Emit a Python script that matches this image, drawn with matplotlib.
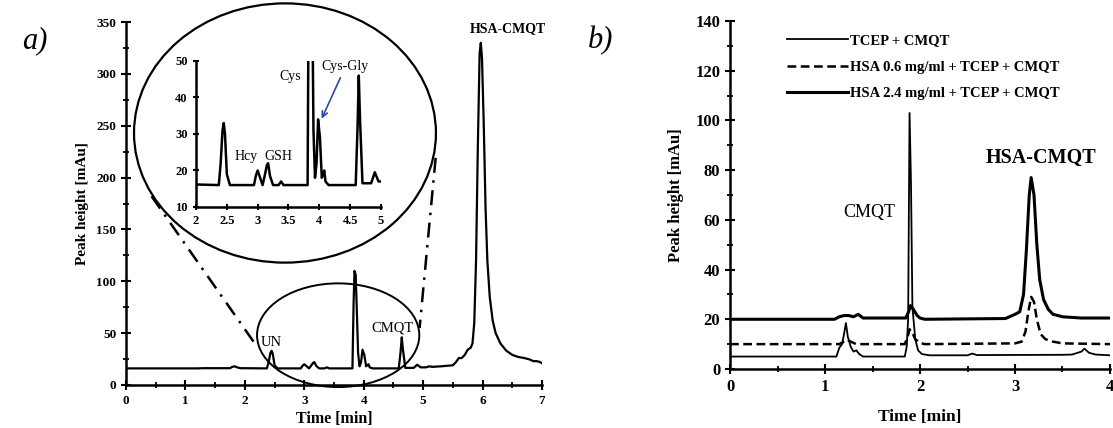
import matplotlib.pyplot as plt
from matplotlib.patches import Ellipse
from matplotlib.ticker import MultipleLocator

plt.rcParams['font.family'] = ['Liberation Serif', 'DejaVu Serif']

# ---- panel a: chromatogram (time [min], peak height [mAu])
time_a = [0, 1.2, 1.3, 1.75, 1.79, 1.83, 1.87, 1.92, 2.37, 2.4, 2.43, 2.45, 2.47,
          2.5, 2.55, 2.94, 2.97, 3.0, 3.03, 3.08, 3.12, 3.15, 3.17, 3.2, 3.25,
          3.34, 3.38, 3.42, 3.81, 3.83, 3.845, 3.865, 3.885, 3.905, 3.93, 3.955,
          3.98, 4.01, 4.04, 4.06, 4.08, 4.1, 4.15, 4.59, 4.62, 4.64, 4.66, 4.7,
          4.84, 4.9, 4.96, 5.05, 5.1, 5.15, 5.3, 5.5, 5.55, 5.6, 5.65, 5.7, 5.75,
          5.8, 5.83, 5.86, 5.89, 5.92, 5.95, 5.97, 5.99, 6.02, 6.05, 6.08, 6.12,
          6.17, 6.22, 6.3, 6.4, 6.5, 6.6, 6.7, 6.8, 6.85, 6.9, 6.95, 7.0]
height_a = [16, 16, 16.2, 16.2, 17.5, 18, 17, 16.2, 16, 22, 31, 33, 30,
            19, 16, 16, 18.5, 20, 18.5, 16, 19, 21.5, 22, 18.5, 16,
            16, 17, 16, 16, 80, 110, 106, 70, 31, 18, 22,
            34, 29, 18, 19, 20, 17, 16, 16, 32, 46, 34, 16.5,
            16.5, 19.5, 17, 17, 18, 17.5, 18, 19, 22, 26, 26, 29, 34,
            36, 40, 60, 120, 230, 320, 330, 315, 250, 170, 120, 85,
            62, 50, 40, 33, 29, 27, 26, 24.5, 23, 23, 22.5, 21]

# zoom-in guide lines (start, end) in panel-a data units
guide_left_x = [0.43, 2.18]
guide_left_y = [182, 39]
guide_right_x = [5.21, 4.94]
guide_right_y = [219, 55]

xticks_a = [0, 1, 2, 3, 4, 5, 6, 7]
yticks_a = [0, 50, 100, 150, 200, 250, 300, 350]
inset_xticks = [2, 2.5, 3, 3.5, 4, 4.5, 5]
inset_xlabels = ['2', '2.5', '3', '3.5', '4', '4.5', '5']
inset_yticks = [10, 20, 30, 40, 50]

# ---- panel b: three traces
time_tcep = [0, 1.12, 1.15, 1.18, 1.2, 1.22, 1.24, 1.27, 1.3, 1.33, 1.36, 1.4,
             1.84, 1.86, 1.875, 1.89, 1.905, 1.92, 1.95, 1.98, 2.02, 2.1, 2.5,
             2.55, 2.6, 3.5, 3.6, 3.7, 3.73, 3.78, 3.85, 4.0]
height_tcep = [5, 5, 8.5, 10, 14, 18.5, 13, 9, 7, 7.5, 6, 5,
               5, 9, 20, 103, 75, 25, 12, 7.5, 6, 5.5, 5.5,
               6.2, 5.6, 5.7, 5.8, 7, 8.2, 6.5, 5.8, 5.5]

time_hsa06 = [0, 1.15, 1.2, 1.23, 1.27, 1.33, 1.84, 1.87, 1.89, 1.92, 1.95, 2.0,
              2.05, 3.0, 3.07, 3.11, 3.14, 3.17, 3.2, 3.23, 3.27, 3.32, 3.4, 3.5,
              4.0]
height_hsa06 = [10, 10, 11, 11.8, 11, 10, 10, 13, 16, 14.5, 12, 10.5,
                10, 10.3, 11, 15, 23, 29, 27, 20, 14, 12, 11, 10.3,
                10]

time_hsa24 = [0, 1.1, 1.15, 1.2, 1.25, 1.3, 1.35, 1.4, 1.85, 1.88, 1.9, 1.93,
              1.97, 2.0, 2.05, 2.9, 3.0, 3.05, 3.09, 3.12, 3.15, 3.17, 3.2,
              3.23, 3.26, 3.3, 3.35, 3.4, 3.5, 3.7, 4.0]
height_hsa24 = [20, 20, 21, 21.5, 21.5, 21, 22, 20.5, 20.5, 23, 25.5, 24,
                21.5, 20.5, 20, 20.3, 22, 23, 30, 48, 70, 77, 70,
                50, 36, 28, 24, 22, 21, 20.5, 20.5]

labels_b = ['TCEP + CMQT', 'HSA 0.6 mg/ml + TCEP + CMQT',
            'HSA 2.4 mg/ml + TCEP + CMQT']
xticks_b = [0, 1, 2, 3, 4]
yticks_b = [0, 20, 40, 60, 80, 100, 120, 140]


def style_axis(ax, fs):
    for side in ['top', 'right']:
        ax.spines[side].set_visible(False)
    for side in ['left', 'bottom']:
        ax.spines[side].set_linewidth(1.8)
    ax.tick_params(which='major', direction='inout', length=7, width=1.5,
                   labelsize=fs)
    ax.tick_params(which='minor', direction='inout', length=5, width=1.3)
    for lab in ax.get_xticklabels() + ax.get_yticklabels():
        lab.set_fontweight('bold')


fig = plt.figure(figsize=(11.13, 4.28), dpi=100)

# ---------------- panel a
ax1 = fig.add_axes([0.1132, 0.1005, 0.3738, 0.848])
ax1.plot(time_a, height_a, color='black', lw=1.6)
ax1.set_xlim(0, 7)
ax1.set_ylim(0, 350)
ax1.set_xticks(xticks_a)
ax1.set_yticks(yticks_a)
ax1.xaxis.set_minor_locator(MultipleLocator(0.5))
ax1.yaxis.set_minor_locator(MultipleLocator(25))
style_axis(ax1, 9.5)
ax1.set_xlabel('Time [min]', fontsize=11.5, fontweight='bold', labelpad=3)
ax1.set_ylabel('Peak height [mAu]', fontsize=11, fontweight='bold', labelpad=5)

ax1.text(6.42, 344, 'HSA-CMQT', fontsize=10, fontweight='bold', ha='center', va='center')
ax1.text(2.45, 41, 'UN', fontsize=10.5, ha='center', va='center')
ax1.text(4.49, 55, 'CMQT', fontsize=10.5, ha='center', va='center')

ax1.add_patch(Ellipse((3.57, 48), 2.73, 100, fill=False, lw=1.4, clip_on=False))
ax1.add_patch(Ellipse((2.675, 243), 5.08, 250, fill=False, lw=1.6, clip_on=False))
ax1.plot(guide_left_x, guide_left_y, color='black', lw=1.8, ls=(0, (6, 3, 1, 3)))
ax1.plot(guide_right_x, guide_right_y, color='black', lw=1.8, ls=(0, (6, 3, 1, 3)))

# inset
ax_in = fig.add_axes([0.1761, 0.5164, 0.1662, 0.3411])
ax_in.patch.set_alpha(0)
ax_in.plot(time_a, height_a, color='black', lw=1.8)
ax_in.set_xlim(2, 5)
ax_in.set_ylim(10, 50)
ax_in.set_xticks(inset_xticks)
ax_in.set_xticklabels(inset_xlabels)
ax_in.set_yticks(inset_yticks)
ax_in.yaxis.set_minor_locator(MultipleLocator(5))
ax_in.xaxis.set_minor_locator(MultipleLocator(0.25))
style_axis(ax_in, 9)
ax_in.tick_params(which='major', length=5)
ax_in.tick_params(which='minor', length=0)
ax_in.text(3.53, 45.7, 'Cys', fontsize=10, ha='center', va='center')
ax_in.text(4.42, 48.4, 'Cys-Gly', fontsize=10, ha='center', va='center')
ax_in.text(2.82, 23.8, 'Hcy', fontsize=10, ha='center', va='center')
ax_in.text(3.33, 23.8, 'GSH', fontsize=10, ha='center', va='center')
ax_in.annotate('', xy=(4.02, 33.5), xytext=(4.36, 46.1),
               arrowprops=dict(arrowstyle='->', color='#2b4a9a', lw=1.2))

fig.text(0.02, 0.905, 'a)', fontsize=22, style='italic', ha='left', va='center')

# ---------------- panel b
ax2 = fig.add_axes([0.6559, 0.1379, 0.3414, 0.813])
ax2.plot(time_tcep, height_tcep, color='black', lw=1.3, label=labels_b[0])
ax2.plot(time_hsa06, height_hsa06, color='black', lw=1.8, ls=(0, (3.5, 1.8)),
         label=labels_b[1])
ax2.plot(time_hsa24, height_hsa24, color='black', lw=2.2, label=labels_b[2])
ax2.set_xlim(0, 4)
ax2.set_ylim(0, 140)
ax2.set_xticks(xticks_b)
ax2.set_yticks(yticks_b)
ax2.xaxis.set_minor_locator(MultipleLocator(0.5))
ax2.yaxis.set_minor_locator(MultipleLocator(10))
style_axis(ax2, 12)
ax2.set_xlabel('Time [min]', fontsize=12.5, fontweight='bold', labelpad=10)
ax2.set_ylabel('Peak height [mAu]', fontsize=12, fontweight='bold', labelpad=8)
ax2.text(1.47, 63, 'CMQT', fontsize=13, ha='center', va='center')
ax2.text(3.27, 85, 'HSA-CMQT', fontsize=14.5, fontweight='bold', ha='center', va='center')
ax2.legend(loc='upper left', bbox_to_anchor=(0.115, 1.0), frameon=False,
           prop={'weight': 'bold', 'size': 10.5}, handlelength=4.2,
           handletextpad=0.1, labelspacing=0.9)

fig.text(0.528, 0.905, 'b)', fontsize=22, style='italic', ha='left', va='center')

fig.savefig('out.png', dpi=100)
